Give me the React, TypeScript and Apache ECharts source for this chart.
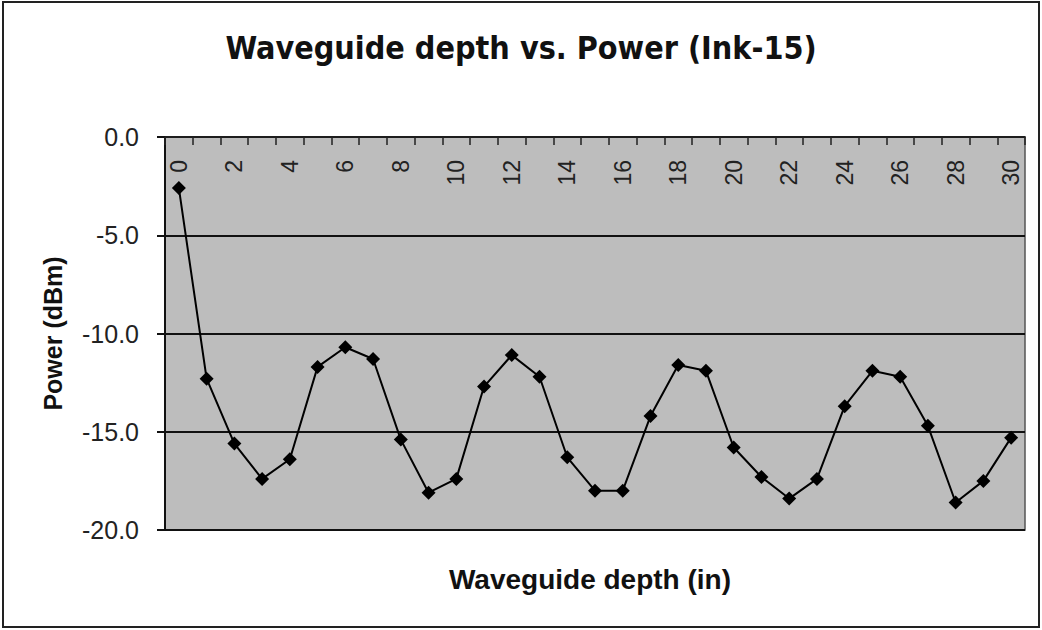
import React, { useEffect, useRef } from "react";
import * as echarts from "echarts";

const depths: string[] = [
  "0", "1", "2", "3", "4", "5", "6", "7", "8", "9", "10",
  "11", "12", "13", "14", "15", "16", "17", "18", "19", "20",
  "21", "22", "23", "24", "25", "26", "27", "28", "29", "30",
];
const powerDbm: number[] = [
  -2.6, -12.3, -15.6, -17.4, -16.4, -11.7, -10.7, -11.3, -15.4, -18.1, -17.4,
  -12.7, -11.1, -12.2, -16.3, -18.0, -18.0, -14.2, -11.6, -11.9, -15.8,
  -17.3, -18.4, -17.4, -13.7, -11.9, -12.2, -14.7, -18.6, -17.5, -15.3,
];
const titleText = "Waveguide depth vs. Power (Ink-15)";
const xTitle = "Waveguide depth (in)";
const yTitle = "Power (dBm)";

export default function App() {
  const ref = useRef<HTMLDivElement>(null);
  useEffect(() => {
    if (!ref.current) return;
    const chart = echarts.init(ref.current, undefined, { renderer: "svg" });
    chart.setOption({
      animation: false,
      backgroundColor: "#ffffff",
      textStyle: { fontFamily: "'Liberation Sans', Arial, sans-serif" },
      title: {
        text: titleText,
        left: "center",
        top: 27,
        textStyle: {
          fontFamily: "'Liberation Sans Narrow', 'DejaVu Sans Condensed', 'Liberation Sans', sans-serif",
          fontSize: 32,
          fontWeight: "bold",
          color: "#111",
        },
      },
      grid: {
        left: 165,
        top: 137,
        width: 860,
        height: 393,
        show: true,
        backgroundColor: "#bdbdbd",
        borderColor: "#555",
        borderWidth: 1.5,
      },
      xAxis: {
        type: "category",
        data: depths,
        position: "top",
        boundaryGap: true,
        axisLine: { show: true, lineStyle: { color: "#222", width: 1.5 } },
        axisTick: { show: true, inside: true, length: 8, interval: 0, lineStyle: { color: "#222", width: 1.5 } },
        axisLabel: {
          interval: 1,
          inside: true,
          rotate: 90,
          margin: 23,
          fontSize: 23,
          color: "#222",
        },
        splitLine: { show: false },
      },
      yAxis: {
        type: "value",
        min: -20,
        max: 0,
        interval: 5,
        name: yTitle,
        nameLocation: "middle",
        nameGap: 100,
        nameRotate: 90,
        nameTextStyle: { fontSize: 25, fontWeight: "bold", color: "#111" },
        axisLine: { show: true, lineStyle: { color: "#111", width: 2 } },
        axisTick: { show: true, inside: false, length: 8, lineStyle: { color: "#111", width: 2 } },
        axisLabel: {
          fontSize: 25,
          margin: 26,
          color: "#222",
          formatter: (v: number) => v.toFixed(1),
        },
        splitLine: { show: true, lineStyle: { color: "#111", width: 2 } },
      },
      graphic: [
        {
          type: "rect",
          shape: { x: 3, y: 2, width: 1036, height: 625 },
          style: { fill: "none", stroke: "#222", lineWidth: 2 },
          z: 100,
        },
        {
          type: "text",
          x: 590,
          y: 579,
          style: {
            text: xTitle,
            fontSize: 28,
            fontWeight: "bold",
            fill: "#111",
            align: "center",
            verticalAlign: "middle",
            fontFamily: "'Liberation Sans', Arial, sans-serif",
          },
        },
      ],
      series: [
        {
          type: "line",
          data: powerDbm,
          symbol: "diamond",
          symbolSize: 14,
          itemStyle: { color: "#000" },
          lineStyle: { color: "#000", width: 2 },
        },
      ],
    });
    return () => chart.dispose();
  }, []);
  return (
    <div
      ref={ref}
      style={{ position: "fixed", left: 0, top: 0, width: 1042, height: 630 }}
    />
  );
}
